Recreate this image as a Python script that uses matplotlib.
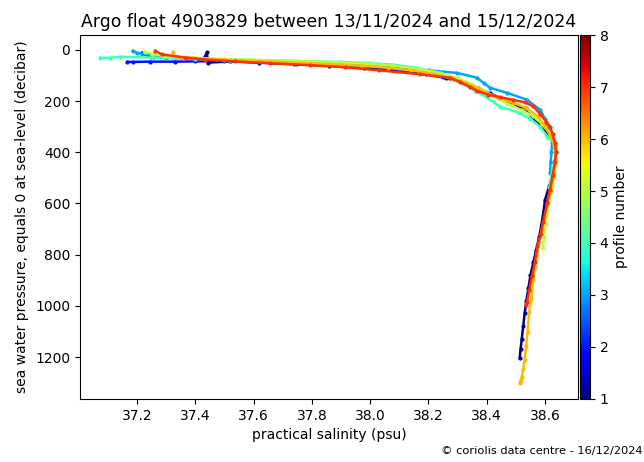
import numpy as np
import matplotlib
matplotlib.use("Agg")
import matplotlib.pyplot as plt
from matplotlib import cm
from matplotlib.colors import Normalize

# profile number -> (salinity, pressure)
profile_ids = [1, 2, 3, 4, 5, 6, 7]

p1_pres = [12, 30, 33, 10, 50, 45, 50, 56, 62, 70, 80, 95, 110, 130, 150, 170, 190, 210, 235, 261,
           280, 300, 340, 380, 430, 480, 530, 585, 630, 680, 730, 780, 830, 880, 930, 980, 1030,
           1080, 1130, 1170, 1204]
p1_sal = [37.217, 37.25, 37.43, 37.44, 37.443, 37.52, 37.62, 37.74, 37.86, 37.98, 38.08, 38.19, 38.26,
          38.32, 38.37, 38.41, 38.45, 38.49, 38.53, 38.556, 38.57, 38.59, 38.62, 38.635, 38.635, 38.628,
          38.615, 38.60, 38.595, 38.588, 38.58, 38.57, 38.56, 38.55, 38.543, 38.536, 38.53, 38.525,
          38.52, 38.516, 38.513]

p2_pres = [47, 47, 46, 46, 45, 44, 48, 54, 60, 68, 78, 90, 105]
p2_sal = [37.166, 37.186, 37.245, 37.33, 37.40, 37.50, 37.62, 37.75, 37.88, 37.99, 38.09, 38.18, 38.25]

p3_pres = [4, 12, 15, 22, 30, 36, 42, 48, 55, 62, 70, 80, 90, 109, 130, 148, 168, 195, 234, 270,
           300, 330, 360, 400, 440, 480]
p3_sal = [37.186, 37.20, 37.217, 37.25, 37.30, 37.40, 37.52, 37.68, 37.84, 37.98, 38.10, 38.20, 38.298,
          38.367, 38.39, 38.411, 38.47, 38.538, 38.583, 38.60, 38.607, 38.616, 38.624, 38.622, 38.619,
          38.617]

p4_pres = [31, 31, 27, 30, 35, 39, 43, 47, 52, 58, 70, 85, 97, 115, 135, 160, 185, 205, 222, 245,
           270, 300, 339, 370, 400, 440, 480, 510, 535]
p4_sal = [37.073, 37.107, 37.142, 37.25, 37.40, 37.553, 37.72, 37.897, 38.0, 38.08, 38.16, 38.21,
          38.24, 38.28, 38.32, 38.36, 38.40, 38.425, 38.446, 38.51, 38.55, 38.583, 38.607, 38.638,
          38.642, 38.632, 38.624, 38.62, 38.615]

p5_pres = [8, 15, 25, 30, 36, 42, 48, 55, 62, 75, 90, 110, 135, 160, 185, 210, 235, 260, 290, 330,
           380, 430, 480, 530, 580, 630, 680, 730, 775]
p5_sal = [37.227, 37.25, 37.30, 37.36, 37.50, 37.70, 37.88, 38.0, 38.08, 38.17, 38.24, 38.30, 38.35,
          38.39, 38.43, 38.47, 38.52, 38.56, 38.59, 38.62, 38.635, 38.637, 38.632, 38.625, 38.615,
          38.607, 38.603, 38.598, 38.592]

p6_pres = [8, 20, 28, 32, 38, 44, 50, 56, 62, 70, 80, 95, 110, 130, 150, 168, 187, 207, 226, 260,
           300, 350, 400, 450, 500, 550, 600, 650, 700, 750, 800, 850, 900, 975, 1025, 1103, 1158,
           1210, 1248, 1280, 1300, 1288]
p6_sal = [37.323, 37.325, 37.34, 37.40, 37.50, 37.62, 37.74, 37.86, 37.97, 38.06, 38.14, 38.22,
          38.28, 38.33, 38.37, 38.40, 38.44, 38.49, 38.535, 38.575, 38.60, 38.625, 38.635, 38.635,
          38.628, 38.62, 38.61, 38.60, 38.59, 38.58, 38.572, 38.565, 38.559, 38.553, 38.545, 38.54,
          38.535, 38.53, 38.525, 38.52, 38.513, 38.519]

p7_pres = [4, 18, 30, 38, 45, 52, 60, 68, 80, 95, 109, 125, 145, 160, 175, 185, 195, 205, 220, 250,
           280, 300, 330, 363, 400, 440, 490, 546, 600, 674, 720, 768, 830, 885, 940, 986, 997]
p7_sal = [37.262, 37.286, 37.365, 37.433, 37.536, 37.656, 37.794, 37.914, 38.03, 38.17, 38.274,
          38.308, 38.343, 38.367, 38.405, 38.446, 38.49, 38.531, 38.559, 38.583, 38.604, 38.617,
          38.626, 38.634, 38.638, 38.634, 38.626, 38.617, 38.607, 38.593, 38.585, 38.574, 38.565,
          38.555, 38.546, 38.538, 38.536]

profiles = [(p1_sal, p1_pres), (p2_sal, p2_pres), (p3_sal, p3_pres), (p4_sal, p4_pres),
            (p5_sal, p5_pres), (p6_sal, p6_pres), (p7_sal, p7_pres)]

cmap = matplotlib.colormaps["jet"]
norm = Normalize(vmin=1, vmax=8)

fig = plt.figure(figsize=(6.44, 4.62), dpi=100)
ax = fig.add_axes([0.124, 0.1364, 0.7735, 0.7878])
cax = fig.add_axes([0.9006, 0.1364, 0.0155, 0.7878])

for pid, (sal, pres) in zip(profile_ids, profiles):
    ax.plot(sal, pres, "-", color=cmap(norm(pid)), lw=1.8, marker=".", ms=4)

ax.set_xlim(37.004, 38.713)
ax.set_ylim(1364, -58)
ax.set_xticks([37.2, 37.4, 37.6, 37.8, 38.0, 38.2, 38.4, 38.6])
ax.set_yticks([0, 200, 400, 600, 800, 1000, 1200])
ax.set_xlabel("practical salinity (psu)")
ax.set_ylabel("sea water pressure, equals 0 at sea-level (decibar)")
ax.set_title("Argo float 4903829 between 13/11/2024 and 15/12/2024", fontsize=12.4)

sm = cm.ScalarMappable(norm=norm, cmap=cmap)
sm.set_array([])
cb = fig.colorbar(sm, cax=cax)
cb.set_ticks([1, 2, 3, 4, 5, 6, 7, 8])
cb.set_label("profile number")

fig.text(0.997, 0.012, "\u00a9 coriolis data centre - 16/12/2024", ha="right", va="bottom", fontsize=8.2)

fig.savefig("out.png", dpi=100)
plt.close(fig)
